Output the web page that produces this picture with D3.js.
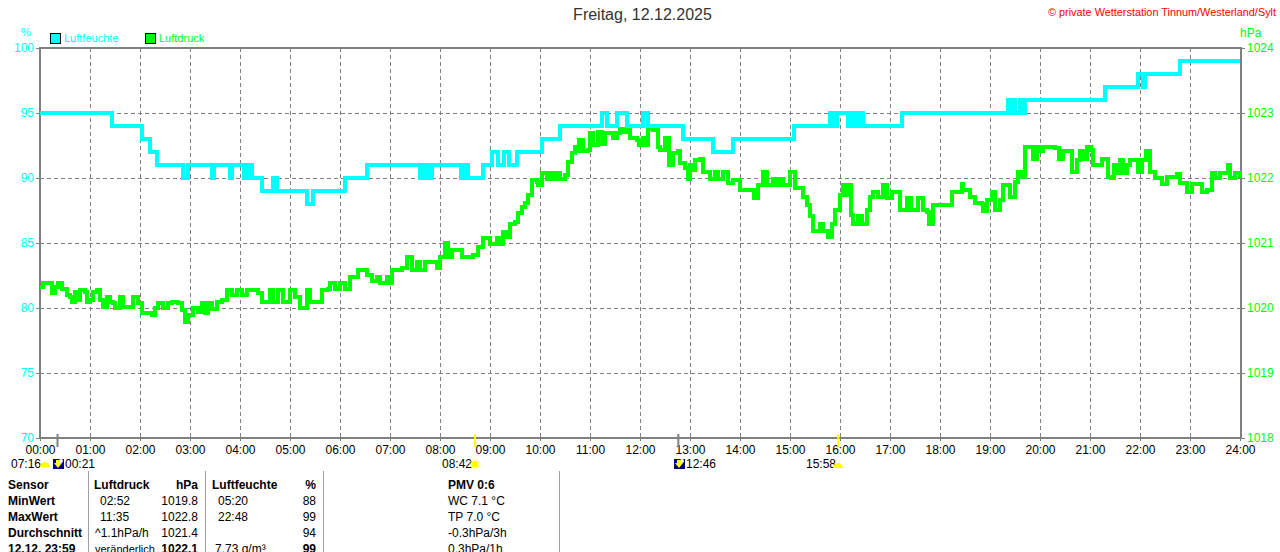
<!DOCTYPE html>
<html>
<head>
<meta charset="utf-8">
<script src="https://cdn.jsdelivr.net/npm/d3@7"></script>
<style>
  html, body { margin: 0; padding: 0; background: #fff; overflow: hidden; }
  text { font-family: "Liberation Sans", Arial, sans-serif; font-size: 12px; }
</style>
</head>
<body>
<svg id="chart"></svg>
<script>
// Luftfeuchte, minutes since midnight and %
const humTimes = [0,86,122,132,140,172,178,206,209,228,230,245,247,250,252,254,256,266,280,284,320,328,366,392,
  456,458,460,462,464,466,468,470,505,507,509,511,513,515,532,542,549,557,563,572,602,624,674,680,692,704,723,730,
  771,807,832,905,948,953,956,970,973,976,978,980,985,988,1034,1162,1165,1166,1170,1176,1180,1182,1278,1318,1323,1326,1368,1440];
const humValues = [95,94,93,92,91,90,91,90,91,90,91,90,91,90,91,90,90,89,90,89,88,89,90,91,
  90,91,90,91,90,91,90,91,90,91,90,91,90,90,91,92,91,92,91,92,93,94,95,94,95,94,95,94,
  93,92,93,94,95,94,95,94,95,94,95,94,95,94,95,96,95,96,95,96,95,96,97,98,97,98,99,99];

// Luftdruck, minutes since midnight and hPa
const pressTimes = [0,4,12,14,18,22,26,32,36,38,42,44,48,54,56,60,64,68,72,76,80,84,88,90,96,100,106,112,118,122,134,138,142,148,154,158,166,170,174,178,184,190,194,198,202,206,212,218,224,230,236,242,248,256,262,266,276,280,286,292,300,306,312,320,324,332,338,346,348,354,360,366,372,378,382,
  384,392,398,404,408,416,418,422,434,440,446,452,456,462,468,476,480,486,490,494,502,506,512,520,526,532,540,548,552,556,560,564,570,574,578,582,586,590,596,598,602,608,612,615,619,624,630,634,638,642,644,647,652,657,660,664,670,674,678,684,688,692,696,700,704,708,716,719,723,726,730,736,742,
  744,750,755,760,766,768,774,777,780,784,786,792,796,804,810,814,820,826,832,840,854,857,862,868,872,880,884,888,892,900,906,916,920,924,928,932,936,940,945,950,954,960,963,966,968,973,976,982,986,992,996,1000,1006,1012,1016,1022,1028,1032,1040,1045,1053,1060,1064,1067,1072,1084,1094,1102,
  1106,1108,1116,1122,1130,1132,1136,1142,1146,1152,1156,1162,1164,1170,1174,1178,1182,1188,1192,1196,1200,1204,1212,1218,1223,1228,1234,1238,1244,1248,1252,1256,1261,1264,1274,1282,1285,1289,1294,1296,1300,1304,1308,1314,1318,1322,1327,1332,1338,1346,1352,1360,1364,1368,1376,1382,1390,1394,1400,1406,1410,1416,1424,1426,1428,1434,1440];
const pressValues = [1020.33,1020.38,1020.38,1020.23,1020.33,1020.39,1020.30,1020.20,1020.17,1020.10,1020.25,1020.12,1020.28,1020.25,1020.10,1020.12,1020.25,1020.28,1020.12,1020.02,1020.17,1020.10,1020.07,1020.00,1020.17,1020.01,1020.02,1020.17,1020.07,1019.92,1019.90,1020.00,1020.07,1020.00,1020.07,1020.10,1020.08,1019.97,1019.79,1019.89,1020.00,1019.94,1020.07,1019.92,1020.07,1019.98,1020.10,1020.12,1020.28,1020.20,1020.28,1020.20,1020.28,1020.28,1020.23,1020.10,1020.28,1020.10,1020.28,1020.10,1020.28,1020.17,1020.00,1020.28,1020.10,1020.10,1020.28,1020.30,1020.39,1020.30,1020.38,1020.30,1020.48,1020.48,1020.58,
  1020.58,1020.51,1020.41,1020.48,1020.38,1020.48,1020.38,1020.58,1020.61,1020.79,1020.58,1020.71,1020.58,1020.71,1020.71,1020.61,1020.79,1021.00,1020.79,1020.89,1020.89,1020.79,1020.79,1020.82,1020.94,1021.07,1020.99,1021.07,1020.99,1021.17,1021.10,1021.29,1021.33,1021.46,1021.56,1021.61,1021.74,1021.97,1021.94,1021.89,1022.07,1021.99,1022.07,1021.99,1022.07,1021.99,1022.05,1022.25,1022.38,1022.48,1022.41,1022.58,1022.41,1022.43,1022.69,1022.51,1022.71,1022.53,1022.69,1022.69,1022.62,1022.69,1022.76,1022.71,1022.76,1022.61,1022.59,1022.51,1022.61,1022.51,1022.76,1022.74,1022.48,
  1022.43,1022.61,1022.20,1022.38,1022.41,1022.23,1022.15,1021.99,1022.20,1022.12,1022.28,1022.29,1022.10,1021.99,1022.10,1021.99,1022.10,1021.92,1021.97,1021.81,1021.81,1021.70,1021.89,1022.09,1021.89,1021.99,1021.89,1021.99,1021.89,1022.09,1021.84,1021.71,1021.58,1021.41,1021.19,1021.19,1021.29,1021.19,1021.10,1021.29,1021.51,1021.74,1021.89,1021.74,1021.89,1021.43,1021.29,1021.41,1021.29,1021.51,1021.71,1021.79,1021.71,1021.89,1021.70,1021.79,1021.79,1021.51,1021.70,1021.51,1021.70,1021.51,1021.48,1021.29,1021.58,1021.58,1021.79,1021.79,
  1021.91,1021.82,1021.71,1021.61,1021.60,1021.50,1021.66,1021.79,1021.51,1021.66,1021.89,1021.89,1021.71,1021.94,1022.10,1022.02,1022.48,1022.47,1022.30,1022.48,1022.41,1022.48,1022.48,1022.46,1022.29,1022.41,1022.41,1022.10,1022.28,1022.41,1022.30,1022.48,1022.43,1022.20,1022.29,1022.02,1022.00,1022.20,1022.08,1022.28,1022.08,1022.20,1022.28,1022.28,1022.10,1022.28,1022.41,1022.10,1022.00,1021.91,1022.02,1022.02,1022.06,1021.92,1021.79,1021.91,1021.91,1021.79,1021.82,1022.08,1022.00,1022.08,1022.08,1022.20,1022.00,1022.08,1022.00];

// Axis ticks
const hourLabels = d3.range(0, 25).map(h => String(h).padStart(2, "0") + ":00");
const humTicks = [70, 75, 80, 85, 90, 95, 100];
const pressTicks = [1018, 1019, 1020, 1021, 1022, 1023, 1024];

// Sun and moon times
const sunMoonTimes = [21, 522, 766, 958];
const sunMoonColors = ["#808080", "#ffff00", "#808080", "#ffff00"];

// Table below the chart
const tableRows = ["Sensor", "MinWert", "MaxWert", "Durchschnitt", "12.12. 23:59"];
const pressInfo = ["02:52", "11:35", "^1.1hPa/h", "veränderlich"];
const pressNumbers = ["1019.8", "1022.8", "1021.4", "1022.1"];
const humInfo = ["05:20", "22:48", "", "7.73 g/m³"];
const humNumbers = ["88", "99", "94", "99"];
const extraInfo = ["PMV 0:6", "WC 7.1 °C", "TP 7.0 °C", "-0.3hPa/3h", "0.3hPa/1h"];

let width = 1280;
let height = 552;
let margin = { top: 48, right: 40, bottom: 114, left: 40 };

let svg = d3.select("#chart")
    .attr("width", width)
    .attr("height", height)
    .style("display", "block")
    .style("background", "#ffffff");

// Create the scales
let xScale = d3.scaleLinear()
    .domain([0, 1440])
    .range([margin.left, width - margin.right]);

let yHum = d3.scaleLinear()
    .domain([70, 100])
    .range([height - margin.bottom, margin.top]);

let yPress = d3.scaleLinear()
    .domain([1018, 1024])
    .range([height - margin.bottom, margin.top]);

// Dashed grid
let hourTicks = d3.range(0, 25).map(h => h * 60);

svg.append("g").selectAll("line")
    .data(hourTicks.slice(1, -1))
    .enter().append("line")
    .attr("x1", d => Math.round(xScale(d)) + 0.5)
    .attr("x2", d => Math.round(xScale(d)) + 0.5)
    .attr("y1", margin.top)
    .attr("y2", height - margin.bottom)
    .attr("stroke", "#808080")
    .attr("stroke-dasharray", "4 3");

svg.append("g").selectAll("line")
    .data(humTicks.slice(1, -1))
    .enter().append("line")
    .attr("x1", margin.left)
    .attr("x2", width - margin.right)
    .attr("y1", d => Math.round(yHum(d)) + 0.5)
    .attr("y2", d => Math.round(yHum(d)) + 0.5)
    .attr("stroke", "#808080")
    .attr("stroke-dasharray", "4 3");

// Axes
let xAxis = svg.append("g")
    .attr("transform", `translate(0, ${height - margin.bottom})`)
    .call(d3.axisBottom(xScale)
        .tickValues(hourTicks)
        .tickFormat((d, i) => hourLabels[i])
        .tickSize(3)
        .tickPadding(4));

let leftAxis = svg.append("g")
    .attr("transform", `translate(${margin.left}, 0)`)
    .call(d3.axisLeft(yHum).tickValues(humTicks).tickSize(4).tickPadding(2));

let rightAxis = svg.append("g")
    .attr("transform", `translate(${width - margin.right}, 0)`)
    .call(d3.axisRight(yPress).tickValues(pressTicks).tickFormat(d3.format("d")).tickSize(5).tickPadding(2));

[xAxis, leftAxis, rightAxis].forEach(a => {
    a.select(".domain").remove();
    a.selectAll("line").attr("stroke", "#808080");
    a.selectAll("text").style("font-size", "12px");
});
xAxis.selectAll("text").attr("fill", "#000");
leftAxis.selectAll("text").attr("fill", "#00ffff");
rightAxis.selectAll("text").attr("fill", "#00ff00");

// Plot frame
svg.append("line").attr("x1", margin.left - 1).attr("x2", width - margin.right + 2)
    .attr("y1", margin.top).attr("y2", margin.top).attr("stroke", "#808080").attr("stroke-width", 2);
svg.append("line").attr("x1", margin.left - 1).attr("x2", width - margin.right + 2)
    .attr("y1", height - margin.bottom).attr("y2", height - margin.bottom).attr("stroke", "#808080").attr("stroke-width", 2);
svg.append("line").attr("x1", margin.left).attr("x2", margin.left)
    .attr("y1", margin.top).attr("y2", height - margin.bottom).attr("stroke", "#808080").attr("stroke-width", 2);
svg.append("line").attr("x1", width - margin.right + 1).attr("x2", width - margin.right + 1)
    .attr("y1", margin.top).attr("y2", height - margin.bottom).attr("stroke", "#808080").attr("stroke-width", 2);

// Series
let humLine = d3.line()
    .x((d, i) => xScale(humTimes[i]))
    .y(d => yHum(d))
    .curve(d3.curveStepAfter);

let pressLine = d3.line()
    .x((d, i) => xScale(pressTimes[i]))
    .y(d => yPress(d))
    .curve(d3.curveStepAfter);

svg.append("path")
    .attr("d", pressLine(pressValues))
    .attr("fill", "none")
    .attr("stroke", "#00ff00")
    .attr("stroke-width", 4)
    .attr("shape-rendering", "crispEdges");

svg.append("path")
    .attr("d", humLine(humValues))
    .attr("fill", "none")
    .attr("stroke", "#00ffff")
    .attr("stroke-width", 4)
    .attr("shape-rendering", "crispEdges");

// Sun and moon markers on the time axis
svg.append("g").selectAll("line")
    .data(sunMoonTimes)
    .enter().append("line")
    .attr("x1", d => xScale(d))
    .attr("x2", d => xScale(d))
    .attr("y1", height - margin.bottom - 4)
    .attr("y2", height - margin.bottom + 9)
    .attr("stroke", (d, i) => sunMoonColors[i])
    .attr("stroke-width", 2);

function label(x, y, txt, opts) {
    opts = opts || {};
    return svg.append("text")
        .attr("x", x)
        .attr("y", y)
        .attr("text-anchor", opts.anchor || "start")
        .attr("fill", opts.color || "#000")
        .attr("font-weight", opts.bold ? "bold" : "normal")
        .style("font-size", (opts.size || 12) + "px")
        .text(txt);
}

function moonIcon(x, y) {
    svg.append("rect").attr("x", x).attr("y", y).attr("width", 11).attr("height", 10).attr("fill", "#000080");
    svg.append("circle").attr("cx", x + 8).attr("cy", y + 2).attr("r", 2).attr("fill", "#ffffff");
    svg.append("path").attr("d", `M${x + 3},${y + 1}h4v3h2l-4,5l-4,-5h2z`).attr("fill", "#ffff00");
}

function sunIcon(x, y, half) {
    if (half) {
        svg.append("path").attr("d", `M${x - 5},${y + 3}a5,5 0 0 1 10,0z`).attr("fill", "#ffff00");
    } else {
        svg.append("circle").attr("cx", x).attr("cy", y).attr("r", 3.5).attr("fill", "#ffff00");
        svg.append("circle").attr("cx", x).attr("cy", y).attr("r", 5).attr("fill", "none")
            .attr("stroke", "#ffff00").attr("stroke-dasharray", "1 1.5");
    }
}

label(11, 468, "07:16");
sunIcon(45, 464, true);
moonIcon(53, 459);
label(65, 468, "00:21");
label(442, 468, "08:42");
sunIcon(475, 464, false);
moonIcon(674, 459);
label(686, 468, "12:46");
label(806, 468, "15:58");
sunIcon(838, 465, true);

// Title and legend
label(642.5, 20, "Freitag, 12.12.2025", { anchor: "middle", size: 16, color: "#333" });
label(1048, 16, "© private Wetterstation Tinnum/Westerland/Sylt", { color: "#ff0000", size: 11 })
    .attr("textLength", 228)
    .attr("lengthAdjust", "spacingAndGlyphs");
label(26, 36, "%", { anchor: "middle", color: "#00ffff", size: 11 });
label(1240, 37, "hPa", { color: "#00ff00" });

svg.append("rect").attr("x", 50.5).attr("y", 33.5).attr("width", 10).attr("height", 10)
    .attr("fill", "#00ffff").attr("stroke", "#000");
label(64, 42, "Luftfeuchte", { color: "#00ffff", size: 11 });
svg.append("rect").attr("x", 145.5).attr("y", 33.5).attr("width", 10).attr("height", 10)
    .attr("fill", "#00ff00").attr("stroke", "#000");
label(159, 42, "Luftdruck", { color: "#00ff00", size: 11 });

// Table
let rowY = d3.scaleLinear().domain([0, 4]).range([489, 553]);

[88, 205, 323, 559].forEach(x => {
    svg.append("line").attr("x1", x + 0.5).attr("x2", x + 0.5).attr("y1", 471).attr("y2", height)
        .attr("stroke", "#a0a0a0");
});

tableRows.forEach((d, i) => label(8, rowY(i), d, { bold: true }));
label(94, rowY(0), "Luftdruck", { bold: true });
label(198, rowY(0), "hPa", { bold: true, anchor: "end" });
label(212, rowY(0), "Luftfeuchte", { bold: true });
label(316, rowY(0), "%", { bold: true, anchor: "end" });

pressInfo.forEach((d, i) => {
    let x = i < 2 ? 100 : 95;
    label(x, rowY(i + 1), d, { size: i == 3 ? 11 : 12 });
});
pressNumbers.forEach((d, i) => label(198, rowY(i + 1), d, { anchor: "end", bold: i == 3 }));
humInfo.forEach((d, i) => label(i < 2 ? 218 : 215, rowY(i + 1), d));
humNumbers.forEach((d, i) => label(316, rowY(i + 1), d, { anchor: "end", bold: i == 3 }));
extraInfo.forEach((d, i) => label(448, rowY(i), d, { bold: i == 0 }));
</script>
</body>
</html>
